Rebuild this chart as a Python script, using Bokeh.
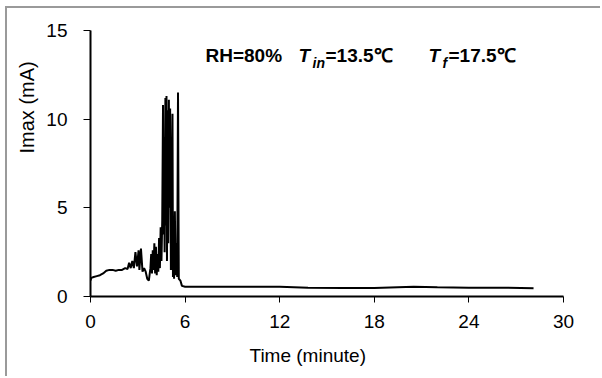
from bokeh.plotting import figure
from bokeh.models import Label, Range1d, FixedTicker, Title
from bokeh.embed import file_html
from bokeh.resources import INLINE

# ---- data ----
time_min = [0.0, 0.05, 0.2, 0.4, 0.6, 0.8, 1.0, 1.2, 1.4, 1.6, 1.8, 2.0, 2.2, 2.35, 2.45,
            2.55, 2.65, 2.75, 2.85, 2.95, 3.05, 3.1, 3.2, 3.3, 3.4, 3.5, 3.6, 3.7, 3.8,
            3.85, 3.9, 3.95, 4.0, 4.05, 4.1, 4.15, 4.2, 4.25, 4.3, 4.35, 4.4, 4.45, 4.5,
            4.55, 4.6, 4.63, 4.67, 4.7, 4.75, 4.78, 4.82, 4.85, 4.9, 4.93, 4.97, 5.0,
            5.05, 5.1, 5.15, 5.2, 5.23, 5.27, 5.3, 5.35, 5.4, 5.45, 5.5, 5.55, 5.6,
            5.7, 5.8, 6.0, 8.0, 10.0, 12.0, 13.8, 16.0, 18.0, 20.5, 22.0, 24.0, 26.0, 28.1]
imax_mA = [0.9, 1.05, 1.1, 1.15, 1.2, 1.3, 1.45, 1.5, 1.5, 1.45, 1.5, 1.5, 1.6, 1.55, 1.9,
           1.6, 2.0, 1.6, 2.5, 1.7, 2.6, 1.5, 2.7, 1.4, 1.6, 1.4, 1.0, 0.9, 1.6,
           2.4, 1.3, 2.6, 1.5, 3.0, 1.3, 2.8, 1.2, 2.4, 1.4, 3.3, 1.6, 3.9, 2.0,
           4.3, 10.8, 3.5, 9.0, 2.5, 11.2, 4.0, 11.3, 2.0, 10.5, 3.0, 11.1, 5.0,
           10.6, 1.5, 5.3, 10.3, 1.1, 4.4, 1.0, 4.8, 1.2, 3.0, 1.1, 11.5, 1.0,
           0.9, 0.6, 0.55, 0.55, 0.55, 0.55, 0.5, 0.48, 0.48, 0.55, 0.52, 0.5, 0.5, 0.47]

x_ticks = [0, 6, 12, 18, 24, 30]
y_ticks = [0, 5, 10, 15]

FONT = "Liberation Sans"

p = figure(width=595, height=370, x_range=Range1d(0, 30), y_range=Range1d(0, 15),
           output_backend="svg", toolbar_location=None,
           min_border_left=83, min_border_right=39, min_border_top=22, min_border_bottom=82)
p.styles = {"margin-left": "5px", "margin-top": "6px",
            "border-left": "2px solid #9a9a9a", "border-top": "2px solid #9a9a9a"}
p.grid.visible = False
p.outline_line_color = None
p.background_fill_color = "white"
p.border_fill_color = "white"

p.line(time_min, imax_mA, line_color="black", line_width=2)

for ax, ticks, tout, stand in ((p.xaxis[0], x_ticks, 6, 12), (p.yaxis[0], y_ticks, 7, 16)):
    ax.ticker = FixedTicker(ticks=ticks)
    ax.minor_tick_line_color = None
    ax.major_tick_in = 0
    ax.major_tick_out = tout
    ax.major_tick_line_color = "black"
    ax.major_tick_line_width = 1
    ax.axis_line_color = "black"
    ax.axis_line_width = 2
    ax.major_label_text_font = FONT
    ax.major_label_text_font_size = "19px"
    ax.major_label_text_color = "black"
    ax.major_label_standoff = stand

# frame position in the page: left 90, bottom 296
FL, FB = 90, 296
def sx(X):
    return X - FL
def sy(Y):
    return FB - Y

def lab(text, X, Y, size, style="normal"):
    p.add_layout(Label(x=sx(X), y=sy(Y), x_units="screen", y_units="screen", text=text,
                       text_font=FONT, text_font_size=size, text_font_style=style,
                       text_color="black", text_align="left",
                       text_baseline="alphabetic"))

# title pieces
lab("RH=80%", 205, 55, "19px", "bold")
lab("T", 298, 55, "19px", "bold italic")
lab("in", 312, 62, "14px", "bold italic")
lab("=13.5\u2103", 325, 55, "19px", "bold")
lab("T", 428, 55, "19px", "bold italic")
lab("f", 442, 62, "14px", "bold italic")
lab("=17.5\u2103", 448, 55, "19px", "bold")

# axis titles (as side-panel titles so they can sit off-centre like the reference)
xt = Title(text="Time (minute)", align="left", offset=159, vertical_align="bottom",
           standoff=24, text_font=FONT, text_font_size="19px", text_font_style="normal",
           text_color="black")
p.add_layout(xt, "below")
yt = Title(text="Imax (mA)", align="left", offset=143, vertical_align="bottom",
           standoff=12, text_font=FONT, text_font_size="20px", text_font_style="normal",
           text_color="black")
p.add_layout(yt, "left")

open("out.html", "w").write(file_html(p, INLINE))
